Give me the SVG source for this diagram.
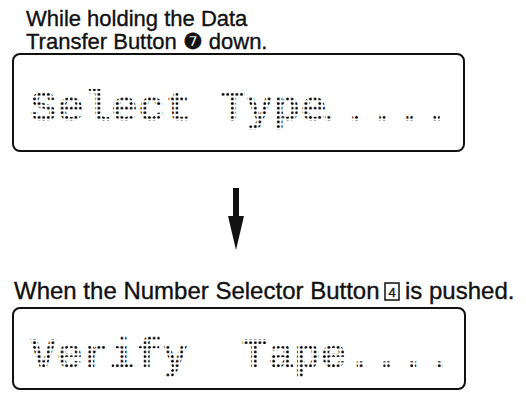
<svg xmlns="http://www.w3.org/2000/svg" width="526" height="393" viewBox="0 0 526 393">
  <defs>
    <pattern id="dots" patternUnits="userSpaceOnUse" width="4.6" height="4.6">
      <circle cx="2.3" cy="2.3" r="1.45" fill="#000"/>
    </pattern>
    <style>
      .lbl { font-family: "Liberation Sans", Arial, sans-serif; font-size: 22px; fill: #111; stroke: #111; stroke-width: 0.35; }
      .lcd { font-family: "Liberation Mono", "DejaVu Sans Mono", monospace; font-size: 45px; font-weight: bold; fill: url(#dots); }
      .box { fill: none; stroke: #111; stroke-width: 2; }
    </style>
  </defs>
  <rect width="526" height="393" fill="#fff"/>

  <g id="step1-caption">
    <text class="lbl" x="26" y="26">While holding the Data</text>
    <text class="lbl" x="26" y="49">Transfer Button <tspan font-family="DejaVu Sans, sans-serif">❼</tspan> down.</text>
  </g>

  <g id="display1">
    <rect class="box" x="13" y="54" width="451" height="97" rx="7"/>
    <text class="lcd" x="30" y="121" xml:space="preserve">Select Type<tspan dx="-12">.....</tspan></text>
  </g>

  <g id="connectors">
    <rect x="233" y="188" width="6" height="32" fill="#111"/>
    <polygon points="228,216 244,216 236,250" fill="#111"/>
  </g>

  <g id="step2-caption">
    <text class="lbl" x="14" y="299" style="font-size:24px">When the Number Selector Button</text>
    <rect x="385" y="283" width="14" height="17" fill="none" stroke="#111" stroke-width="1.5"/>
    <text class="lbl" x="392" y="297" text-anchor="middle" style="font-size:13px">4</text>
    <text class="lbl" x="405" y="299" style="font-size:24px">is pushed.</text>
  </g>

  <g id="display2">
    <rect class="box" x="13" y="308" width="452" height="81" rx="7"/>
    <text class="lcd" x="30" y="368" xml:space="preserve" style="font-size:44px">Verify  Tape....</text>
  </g>
</svg>
